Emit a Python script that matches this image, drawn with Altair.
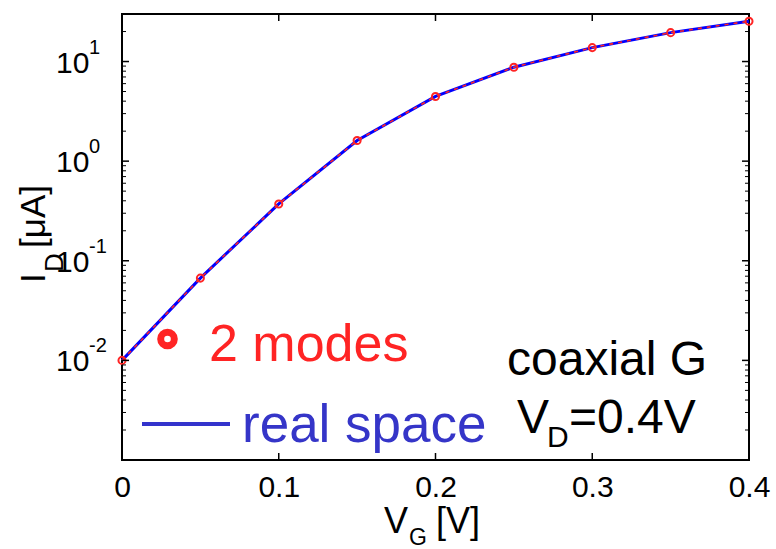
import altair as alt
import pandas as pd

# ---- data ----
vg = [0.0, 0.05, 0.1, 0.15, 0.2, 0.25, 0.3, 0.35, 0.4]
id_ua = [0.0100, 0.067, 0.372, 1.61, 4.46, 8.77, 13.8, 19.5, 25.4]

x_label_values = [0, 0.1, 0.2, 0.3, 0.4]
x_major_ticks = [0.1, 0.2, 0.3]
y_decades = [0.01, 0.1, 1, 10]
y_sup = ["-2", "-1", "0", "1"]
minor_decades = [0.001, 0.01, 0.1, 1, 10]
minor_mult = [2, 3, 4, 5, 6, 7, 8, 9]

W, H = 627, 446
FONT = "Liberation Sans"
RED = "#ff2424"
BLUE_LINE = "#0000ff"
BLUE_TXT = "#3535c8"

xs = alt.Scale(domain=[0, 0.4], nice=False, zero=False)
ys = alt.Scale(type="log", domain=[0.001, 30], nice=False)

df = pd.DataFrame({"vg": vg, "id": id_ua})

xaxis = alt.Axis(
    values=x_label_values,
    labelExpr="datum.value == 0 ? '0' : format(datum.value, '.1f')",
    ticks=False, domain=False, grid=False,
    labelFont=FONT, labelFontSize=30, labelColor="black",
    labelPadding=12, labelFlush=False, labelOverlap=False, title=None,
)

X = alt.X("vg:Q", scale=xs, axis=xaxis)
Y = alt.Y("id:Q", scale=ys, axis=None)

blue = alt.Chart(df).mark_line(color=BLUE_LINE, strokeWidth=3).encode(x=X, y=Y)
reddash = alt.Chart(df).mark_line(color=RED, strokeWidth=1.6, strokeDash=[4, 5]).encode(x=X, y=Y)
pts = alt.Chart(df).mark_point(shape="circle", filled=False, color=RED, size=50,
                               strokeWidth=2, opacity=1).encode(x=X, y=Y)

# ---- inward ticks ----
minor_vals = [d * m for d in minor_decades for m in minor_mult if d * m < 30]
minor_df = pd.DataFrame({"v": minor_vals})
major_df = pd.DataFrame({"v": y_decades})
xt_df = pd.DataFrame({"v": x_major_ticks})

YT = alt.Y("v:Q", scale=ys, axis=None)
XT = alt.X("v:Q", scale=xs, axis=xaxis)

tick_layers = [
    alt.Chart(minor_df).mark_rule(color="black", strokeWidth=1).encode(y=YT, x=alt.value(0), x2=alt.value(4)),
    alt.Chart(minor_df).mark_rule(color="black", strokeWidth=1).encode(y=YT, x=alt.value(W - 4), x2=alt.value(W)),
    alt.Chart(major_df).mark_rule(color="black", strokeWidth=1.5).encode(y=YT, x=alt.value(0), x2=alt.value(7)),
    alt.Chart(major_df).mark_rule(color="black", strokeWidth=1.5).encode(y=YT, x=alt.value(W - 7), x2=alt.value(W)),
    alt.Chart(xt_df).mark_rule(color="black", strokeWidth=1.5).encode(x=XT, y=alt.value(H - 7), y2=alt.value(H)),
    alt.Chart(xt_df).mark_rule(color="black", strokeWidth=1.5).encode(x=XT, y=alt.value(0), y2=alt.value(7)),
]

# ---- y tick labels 10^n ----
ylab_df = pd.DataFrame({"v": y_decades, "sup": y_sup})
ylab10 = alt.Chart(ylab_df).mark_text(text="10", align="left", baseline="alphabetic", font=FONT,
                                      fontSize=30, dy=11, color="black").encode(y=YT, x=alt.value(-66))
ylabsup = alt.Chart(ylab_df).mark_text(align="left", baseline="alphabetic", font=FONT,
                                       fontSize=20, dy=-8, color="black").encode(y=YT, x=alt.value(-33), text="sup:N")


def ann(text, x, y, size, color="black", angle=0):
    d = pd.DataFrame({"t": [text]})
    kw = dict(align="left", baseline="alphabetic", font=FONT, fontSize=size, color=color)
    if angle:
        kw["angle"] = angle
    return alt.Chart(d).mark_text(**kw).encode(x=alt.value(x), y=alt.value(y), text="t:N")


annots = [
    # x title
    ann("V", 262, 519, 36),
    ann("G", 287, 531, 23),
    ann("[V]", 314, 519, 36),
    # y title
    ann("I", -77, 269, 35, angle=270),
    ann("D", -59, 258, 26, angle=270),
    ann("[\u03bcA]", -77, 234, 35, angle=270),
    # legend
    ann("2 modes", 87, 347, 52, RED),
    ann("real space", 120, 428, 53, BLUE_TXT),
    # condition text
    ann("coaxial G", 385, 361, 48),
    ann("V", 395, 419, 48),
    ann("D", 425, 433, 30),
    ann("=0.4V", 447, 419, 48),
]

leg_df = pd.DataFrame({"k": [0]})
leg_circle = alt.Chart(leg_df).mark_point(shape="circle", filled=False, color=RED, size=186,
                                          strokeWidth=7, opacity=1).encode(x=alt.value(45.5), y=alt.value(325))
leg_line = alt.Chart(leg_df).mark_rule(color="#3333cc", strokeWidth=4).encode(
    x=alt.value(20), x2=alt.value(108), y=alt.value(410))

chart = alt.layer(
    blue, reddash, pts, *tick_layers, ylab10, ylabsup, *annots, leg_circle, leg_line
).properties(
    width=W, height=H,
    autosize="none",
    padding={"left": 122, "top": 14, "right": 27, "bottom": 89},
).configure_view(stroke="black", strokeWidth=2)

chart.save("out.html", embed_options={"renderer": "svg", "actions": False})
